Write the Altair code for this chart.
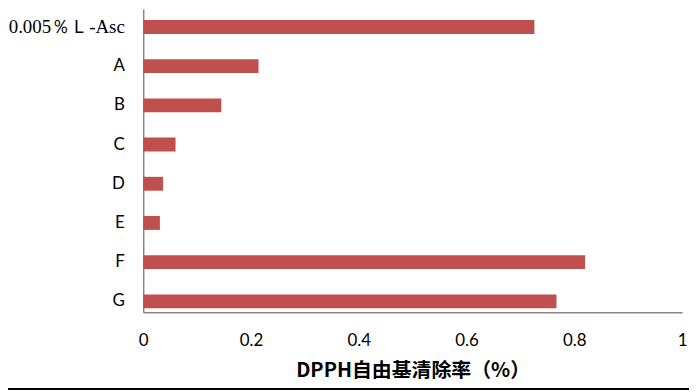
import altair as alt
import pandas as pd

categories = ["0.005％Ｌ-Asc", "A", "B", "C", "D", "E", "F", "G"]
values = [0.726, 0.214, 0.145, 0.060, 0.037, 0.031, 0.820, 0.767]
x_ticks = [0, 0.2, 0.4, 0.6, 0.8, 1]

df = pd.DataFrame({"cat": categories, "val": values})

W, H = 542, 305

bars = alt.Chart(df).mark_bar(color="#C0504D").encode(
    x=alt.X(
        "val:Q",
        scale=alt.Scale(domain=[0, 1], nice=False, zero=True),
        axis=alt.Axis(
            values=x_ticks,
            title="DPPH自由基清除率（%）",
            titleFont="Noto Sans CJK SC",
            titleFontWeight="bold",
            titleFontSize=20,
            titleColor="#000000",
            titlePadding=13,
            labelFont="Lato",
            labelFontSize=17,
            labelColor="#000000",
            labelPadding=20,
            ticks=False,
            grid=False,
            domainColor="#868686",
            domainWidth=1.5,
            labelFlush=False,
            labelExpr="format(datum.value, '~g')",
        ),
    ),
    y=alt.Y(
        "cat:N",
        sort=None,
        scale=alt.Scale(paddingInner=0.646, paddingOuter=0.19, align=0.73),
        axis=alt.Axis(
            title=None,
            ticks=False,
            grid=False,
            domainColor="#868686",
            domainWidth=1.5,
            labelFont={
                "condition": {"test": "datum.value == '0.005％Ｌ-Asc'", "value": "Liberation Serif"},
                "value": "Lato",
            },
            labelFontSize={
                "condition": {"test": "datum.value == '0.005％Ｌ-Asc'", "value": 19},
                "value": 17,
            },
            labelColor="#000000",
            labelPadding=19,
        ),
    ),
)

border = alt.Chart(df).mark_rule(color="#000000", strokeWidth=2).encode(
    x=alt.value(-136), x2=alt.value(W + 8), y=alt.value(H + 77)
)

chart = alt.layer(bars, border).properties(
    width=W,
    height=H,
    autosize=alt.AutoSizeParams(type="none"),
    padding={"left": 136, "top": 0, "right": 7, "bottom": 79},
).configure_view(stroke=None)

chart.save("out.html", embed_options={"renderer": "svg", "actions": False})
